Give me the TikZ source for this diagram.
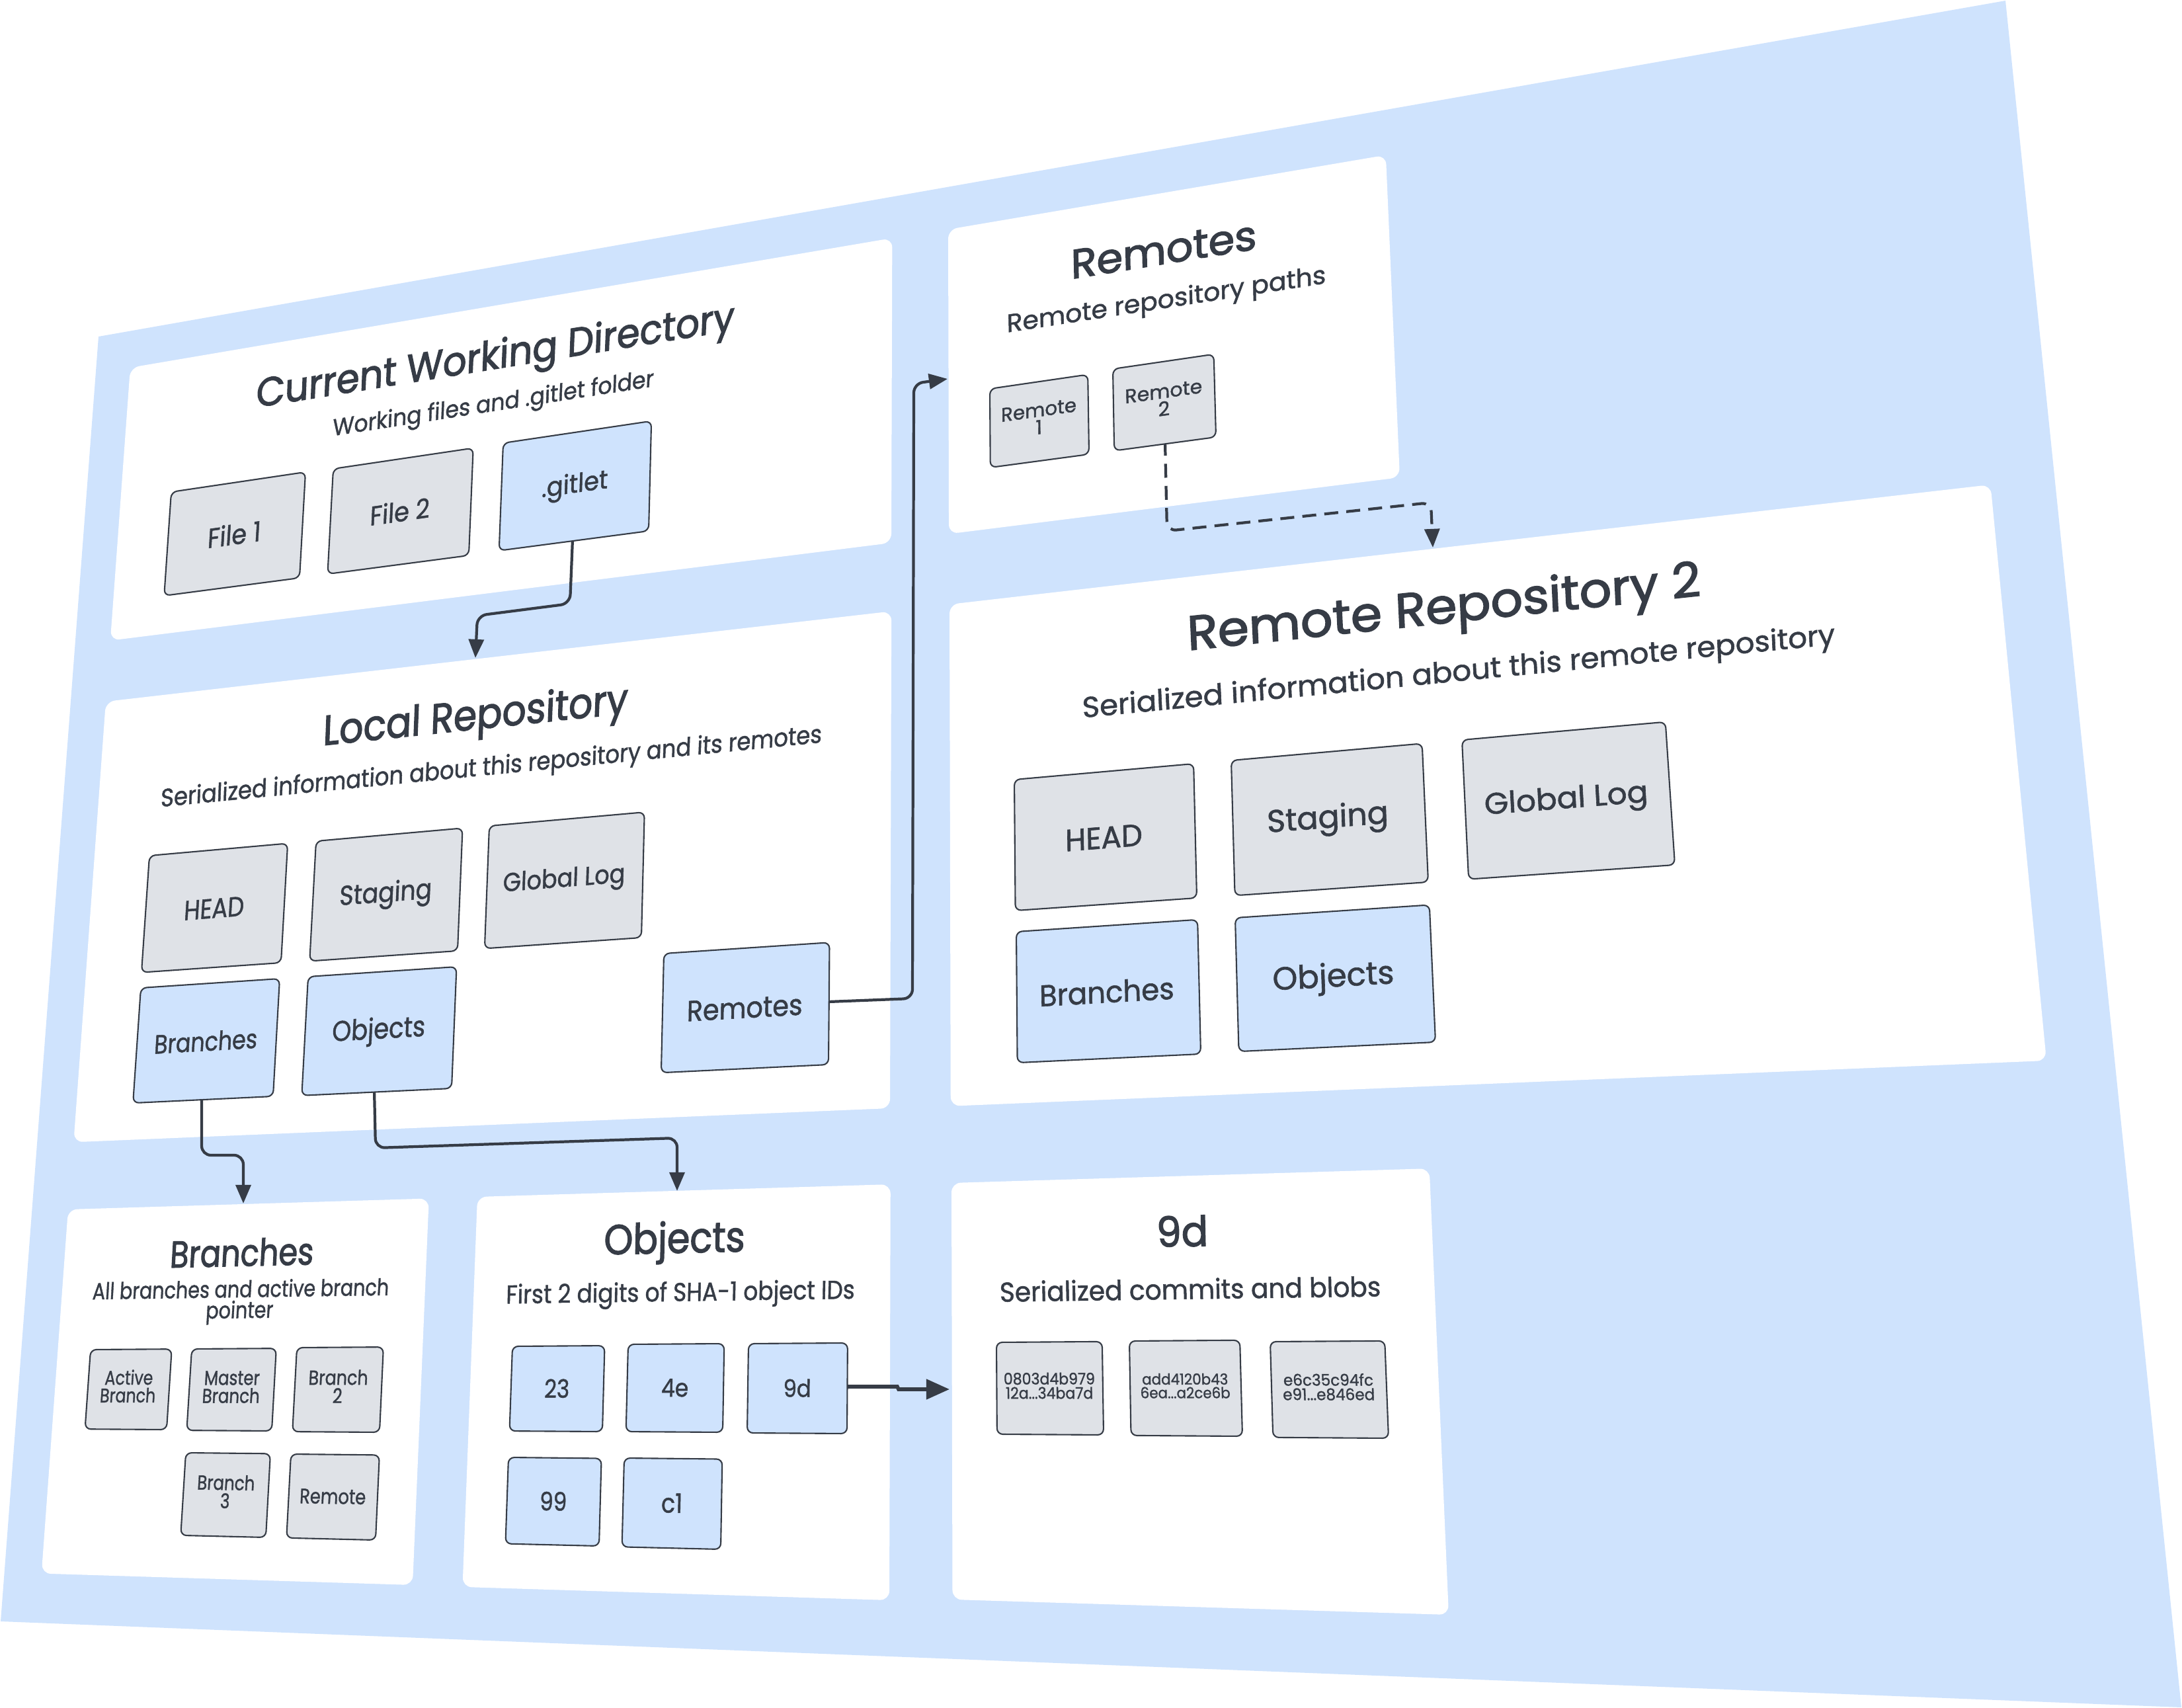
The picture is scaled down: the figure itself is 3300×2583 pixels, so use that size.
\documentclass[tikz,border=0pt]{standalone}
\usepackage{fontspec}
\setmainfont{Poppins}
\newfontfamily\MedFont{Poppins}[FakeBold=1.3]
\newfontfamily\TitFont{Poppins}[FakeBold=2.2]
\usetikzlibrary{arrows.meta}
\definecolor{bgblue}{HTML}{CFE3FD}
\definecolor{boxgray}{HTML}{DFE2E7}
\definecolor{ink}{HTML}{363C46}

% ---- perspective (homography) from the flat sheet to the picture ----
\def\HmXa{149}\def\HmYa{509}
\def\HmXb{3033}\def\HmYb{1}
\def\HmXc{3299}\def\HmYc{2582}
\def\HmXd{1}\def\HmYd{2452}
\def\FlatW{3000}\def\FlatH{2070}
\edef\HmDxa{\fpeval{(\HmXb)-(\HmXc)}}
\edef\HmDxb{\fpeval{(\HmXd)-(\HmXc)}}
\edef\HmSx{\fpeval{(\HmXa)-(\HmXb)+(\HmXc)-(\HmXd)}}
\edef\HmDya{\fpeval{(\HmYb)-(\HmYc)}}
\edef\HmDyb{\fpeval{(\HmYd)-(\HmYc)}}
\edef\HmSy{\fpeval{(\HmYa)-(\HmYb)+(\HmYc)-(\HmYd)}}
\edef\HmDen{\fpeval{(\HmDxa)*(\HmDyb)-(\HmDxb)*(\HmDya)}}
\edef\HmG{\fpeval{((\HmSx)*(\HmDyb)-(\HmDxb)*(\HmSy))/(\HmDen)}}
\edef\HmHh{\fpeval{((\HmDxa)*(\HmSy)-(\HmSx)*(\HmDya))/(\HmDen)}}
\edef\HmA{\fpeval{(\HmXb)-(\HmXa)+(\HmG)*(\HmXb)}}
\edef\HmB{\fpeval{(\HmXd)-(\HmXa)+(\HmHh)*(\HmXd)}}
\edef\HmC{\HmXa}
\edef\HmD{\fpeval{(\HmYb)-(\HmYa)+(\HmG)*(\HmYb)}}
\edef\HmE{\fpeval{(\HmYd)-(\HmYa)+(\HmHh)*(\HmYd)}}
\edef\HmF{\HmYa}
\edef\IaA{\fpeval{(\HmE)-(\HmF)*(\HmHh)}}
\edef\IaB{\fpeval{(\HmC)*(\HmHh)-(\HmB)}}
\edef\IaC{\fpeval{(\HmB)*(\HmF)-(\HmC)*(\HmE)}}
\edef\IbA{\fpeval{(\HmF)*(\HmG)-(\HmD)}}
\edef\IbB{\fpeval{(\HmA)-(\HmC)*(\HmG)}}
\edef\IbC{\fpeval{(\HmC)*(\HmD)-(\HmA)*(\HmF)}}
\edef\IcA{\fpeval{(\HmD)*(\HmHh)-(\HmE)*(\HmG)}}
\edef\IcB{\fpeval{(\HmB)*(\HmG)-(\HmA)*(\HmHh)}}
\edef\IcC{\fpeval{(\HmA)*(\HmE)-(\HmB)*(\HmD)}}

\newcommand\Unproj[4]{%
  \edef\UpW{\fpeval{(\IcA)*(#1)+(\IcB)*(#2)+(\IcC)}}%
  \edef#3{\fpeval{((\IaA)*(#1)+(\IaB)*(#2)+(\IaC))/(\UpW)}}%
  \edef#4{\fpeval{((\IbA)*(#1)+(\IbB)*(#2)+(\IbC))/(\UpW)}}}
\newcommand\Proj[4]{%
  \edef\PrW{\fpeval{(\HmG)*(#1)+(\HmHh)*(#2)+1}}%
  \edef#3{\fpeval{round(((\HmA)*(#1)+(\HmB)*(#2)+(\HmC))/(\PrW),3)}}%
  \edef#4{\fpeval{round(((\HmD)*(#1)+(\HmE)*(#2)+(\HmF))/(\PrW),3)}}}
\newcommand\Jac[2]{%
  \Proj{#1}{#2}{\JXo}{\JYo}%
  \Proj{(#1)+10/\FlatW}{#2}{\JXu}{\JYu}%
  \Proj{#1}{(#2)+10/\FlatH}{\JXv}{\JYv}%
  \edef\Ja{\fpeval{round(((\JXu)-(\JXo))/10,5)}}%
  \edef\Jb{\fpeval{round(-((\JYu)-(\JYo))/10,5)}}%
  \edef\Jc{\fpeval{round(-((\JXv)-(\JXo))/10,5)}}%
  \edef\Jd{\fpeval{round(((\JYv)-(\JYo))/10,5)}}%
  \edef\Jn{\fpeval{sqrt((\Ja)*(\Ja)+(\Jb)*(\Jb))}}}

% text laid on the sheet: name, x, y, width along its line (picture px), text
\newcommand\PText[5]{%
  \Unproj{#2}{#3}{\TUu}{\TUv}%
  \Jac{\TUu}{\TUv}%
  \edef\TWd{\fpeval{round((#4)/(\Jn)*0.01,4)}}%
  \begin{scope}[shift={(#2,#3)},cm={\Ja,\Jb,\Jc,\Jd,(0,0)}]
    \node[lbl,transform shape] (#1) at (0,0) {\resizebox{\TWd cm}{!}{#5}};
  \end{scope}}
% rectangle of the sheet, given its top-left and bottom-right corners in the picture
\newcommand\PQuad[5]{%
  \Unproj{#2}{#3}{\BUa}{\BVa}%
  \Unproj{#4}{#5}{\BUb}{\BVb}%
  \Proj{\BUa}{\BVa}{\BXa}{\BYa}%
  \Proj{\BUb}{\BVa}{\BXb}{\BYb}%
  \Proj{\BUb}{\BVb}{\BXc}{\BYc}%
  \Proj{\BUa}{\BVb}{\BXd}{\BYd}%
  \Proj{((\BUa)+(\BUb))/2}{((\BVa)+(\BVb))/2}{\BXm}{\BYm}%
  \path[#1] (\BXa,\BYa) -- (\BXb,\BYb) -- (\BXc,\BYc) -- (\BXd,\BYd) -- cycle;}
\newcommand\PBox[8]{%
  \PQuad{#1}{#3}{#4}{#5}{#6}%
  \PText{#2}{\BXm}{\BYm}{#7}{#8}}
\newcommand\TwoL[2]{\begin{tabular}{@{}c@{}}#1\\[-2pt]#2\end{tabular}}
\newcommand\Ttl[1]{{\TitFont #1}}

\begin{document}
\begin{tikzpicture}[x=0.01cm,y=-0.01cm,
  panel/.style={fill=white,rounded corners=4pt},
  gbox/.style={fill=boxgray,draw=ink,line width=0.6pt,rounded corners=2.5pt},
  bbox/.style={fill=bgblue,draw=ink,line width=0.6pt,rounded corners=2.5pt},
  lbl/.style={text=ink,inner sep=0pt,font=\MedFont\fontsize{10}{11}\selectfont},
  conn/.style={draw=ink,line width=1.2pt,rounded corners=4pt,-{Triangle[length=8pt,width=6.5pt]}},
  dconn/.style={conn,dash pattern=on 6pt off 3.5pt},
  fconn/.style={draw=ink,line width=1.6pt,-{Triangle[length=10pt,width=8.5pt]}}]
\useasboundingbox (0,0) rectangle (3300,2583);
\fill[bgblue] (149,509) -- (3033,1) -- (3299,2582) -- (1,2452) -- cycle;

% panels
\PQuad{panel}{197}{556}{1348}{821}
\PQuad{panel}{1434}{347}{2117}{722}
\PQuad{panel}{160}{1061}{1346}{1676}
\PQuad{panel}{1436}{914}{3095}{1604}
\PQuad{panel}{103}{1829}{624}{2397}
\PQuad{panel}{722}{1810}{1345}{2420}
\PQuad{panel}{1439}{1789}{2191}{2442}

% connectors
\coordinate (gitS) at (866,815);
\coordinate (gitA) at (862,913);
\coordinate (gitB) at (722,931);
\coordinate (locN) at (719,995);
\draw[conn] (gitS) -- (gitA) -- (gitB) -- (locN);
\coordinate (lbrS) at (305,1660);
\coordinate (lbrA) at (305,1747);
\coordinate (lbrB) at (368,1747);
\coordinate (brN) at (368,1820);
\draw[conn] (lbrS) -- (lbrA) -- (lbrB) -- (brN);
\coordinate (lobS) at (566,1648);
\coordinate (lobA) at (568,1736);
\coordinate (lobB) at (1024,1721);
\coordinate (obN) at (1024,1801);
\draw[conn] (lobS) -- (lobA) -- (lobB) -- (obN);
\coordinate (lremS) at (1253,1515);
\coordinate (lremA) at (1380,1510);
\coordinate (lremB) at (1382,580);
\coordinate (remW) at (1433,573);
\draw[conn] (lremS) -- (lremA) -- (lremB) -- (remW);
\coordinate (remtwoS) at (1762,668);
\coordinate (remtwoA) at (1765,803);
\coordinate (remtwoB) at (2164,760);
\coordinate (rrN) at (2167,828);
\draw[dconn] (remtwoS) -- (remtwoA) -- (remtwoB) -- (rrN);
\coordinate (onineS) at (1281,2097);
\coordinate (onineA) at (1357,2097);
\coordinate (onineB) at (1359,2101);
\coordinate (ndW) at (1436,2101);
\draw[fconn] (onineS) -- (onineA) -- (onineB) -- (ndW);

% Current Working Directory
\PText{cwdT}{749}{543}{732}{\Ttl{Current Working Directory}}
\PText{cwdS}{746}{613}{491}{Working files and .gitlet folder}
\PBox{gbox}{file1}{259}{744}{453}{874}{81}{File 1}
\PBox{gbox}{file2}{504}{709}{709}{840}{91}{File 2}
\PBox{bbox}{gitlet}{761}{670}{981}{803}{101}{.gitlet}

% Remotes
\PText{remT}{1760}{378}{284}{\Ttl{Remotes}}
\PText{remS}{1764}{456}{488}{Remote repository paths}
\PBox{gbox}{rem1}{1497}{588}{1647}{687}{115}{\TwoL{Remote}{1}}
\PBox{gbox}{rem2}{1683}{558}{1839}{661}{118}{\TwoL{Remote}{2}}

% Local Repository
\PText{locT}{719}{1087}{463}{\Ttl{Local Repository}}
\PText{locS}{743}{1162}{1004}{Serialized information about this repository and its remotes}
\PBox{gbox}{lhead}{226}{1294}{425}{1456}{91}{HEAD}
\PBox{gbox}{lstag}{478}{1272}{692}{1438}{140}{Staging}
\PBox{gbox}{llog}{740}{1249}{970}{1418}{185}{Global Log}
\PBox{bbox}{lbr}{213}{1494}{413}{1658}{156}{Branches}
\PBox{bbox}{lobj}{466}{1477}{683}{1646}{141}{Objects}
\PBox{bbox}{lrem}{1004}{1442}{1253}{1610}{175}{Remotes}

% Remote Repository 2
\PText{rrT}{2184}{924}{780}{\Ttl{Remote Repository 2}}
\PText{rrS}{2206}{1019}{1143}{Serialized information about this remote repository}
\PBox{gbox}{rhead}{1534}{1179}{1810}{1358}{117}{HEAD}
\PBox{gbox}{rstag}{1862}{1150}{2160}{1334}{184}{Staging}
\PBox{gbox}{rlog}{2211}{1119}{2533}{1308}{248}{Global Log}
\PBox{bbox}{rbr}{1537}{1409}{1816}{1594}{204}{Branches}
\PBox{bbox}{robj}{1868}{1388}{2171}{1576}{184}{Objects}

% Branches
\PText{brT}{366}{1894}{217}{\Ttl{Branches}}
\PText{brS}{363}{1970}{448}{\TwoL{All branches and active branch}{pointer}}
\PBox{gbox}{bact}{137}{2041}{252}{2162}{84}{\TwoL{Active}{Branch}}
\PBox{gbox}{bmas}{290}{2040}{411}{2164}{87}{\TwoL{Master}{Branch}}
\PBox{gbox}{bbtwo}{449}{2038}{574}{2166}{90}{\TwoL{Branch}{2}}
\PBox{gbox}{bbthree}{281}{2197}{402}{2325}{87}{\TwoL{Branch}{3}}
\PBox{gbox}{brem}{440}{2199}{568}{2329}{100}{Remote}

% Objects
\PText{obT}{1020}{1879}{213}{\Ttl{Objects}}
\PText{obS}{1029}{1958}{527}{First 2 digits of SHA-1 object IDs}
\PBox{bbox}{otwothree}{775}{2036}{911}{2165}{38}{23}
\PBox{bbox}{ofoure}{950}{2033}{1093}{2166}{41}{4e}
\PBox{bbox}{onine}{1132}{2032}{1281}{2168}{42}{9d}
\PBox{bbox}{onn}{769}{2204}{906}{2338}{41}{99}
\PBox{bbox}{ocone}{944}{2205}{1090}{2343}{32}{c1}

% 9d
\PText{ndT}{1788}{1862}{78}{\Ttl{9d}}
\PText{ndS}{1800}{1949}{576}{Serialized commits and blobs}
\PBox{gbox}{hone}{1507}{2030}{1669}{2170}{138}{\TwoL{0803d4b979}{12a...34ba7d}}
\PBox{gbox}{htwo}{1708}{2028}{1879}{2172}{136}{\TwoL{add4120b43}{6ea...a2ce6b}}
\PBox{gbox}{hthree}{1921}{2029}{2100}{2175}{139}{\TwoL{e6c35c94fc}{e91...e846ed}}
\end{tikzpicture}
\end{document}
